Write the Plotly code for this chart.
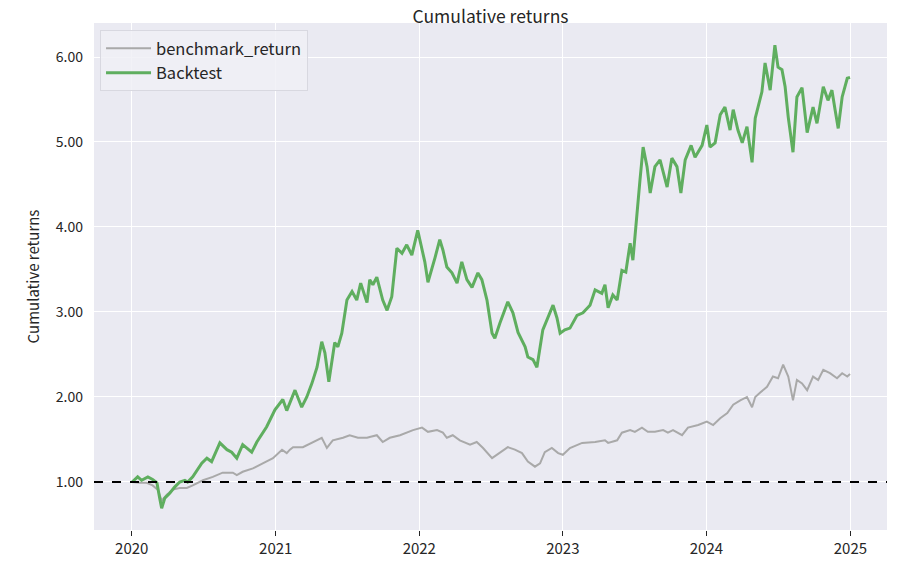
import plotly.graph_objects as go

# Benchmark series
bench_dates = [
    "2020-01-02", "2020-01-21", "2020-02-08", "2020-02-23", "2020-03-07", "2020-03-17",
    "2020-03-30", "2020-04-14", "2020-05-02", "2020-05-20", "2020-06-04", "2020-06-30",
    "2020-07-25", "2020-08-19", "2020-09-14", "2020-09-24", "2020-10-09", "2020-11-04",
    "2020-11-29", "2020-12-25", "2021-01-17", "2021-01-29", "2021-02-06", "2021-02-14",
    "2021-03-11", "2021-04-05", "2021-04-28", "2021-05-11", "2021-05-26", "2021-06-21",
    "2021-07-08", "2021-07-29", "2021-08-21", "2021-08-28", "2021-09-15", "2021-09-30",
    "2021-10-18", "2021-11-13", "2021-11-30", "2021-12-16", "2022-01-08", "2022-01-23",
    "2022-02-15", "2022-03-02", "2022-03-12", "2022-03-27", "2022-04-14", "2022-05-10",
    "2022-05-27", "2022-06-12", "2022-07-05", "2022-07-25", "2022-08-14", "2022-09-01",
    "2022-09-19", "2022-10-04", "2022-10-22", "2022-11-04", "2022-11-16", "2022-12-04",
    "2022-12-20", "2023-01-01", "2023-01-19", "2023-02-19", "2023-03-24", "2023-04-18",
    "2023-04-26", "2023-05-19", "2023-05-31", "2023-06-21", "2023-07-03", "2023-07-21",
    "2023-08-05", "2023-08-23", "2023-09-13", "2023-09-25", "2023-10-08", "2023-10-31",
    "2023-11-15", "2023-12-11", "2024-01-02", "2024-01-18", "2024-02-05", "2024-02-23",
    "2024-03-09", "2024-03-27", "2024-04-13", "2024-04-26", "2024-05-04", "2024-05-16",
    "2024-06-03", "2024-06-18", "2024-07-01", "2024-07-14", "2024-07-27", "2024-08-08",
    "2024-08-18", "2024-08-31", "2024-09-13", "2024-09-28", "2024-10-11", "2024-10-24",
    "2024-11-10", "2024-11-28", "2024-12-11", "2024-12-24", "2024-12-31",
]
bench_values = [
    1.00, 0.99, 0.99, 0.96, 0.91, 0.78,
    0.85, 0.91, 0.93, 0.93, 0.96, 1.02,
    1.06, 1.11, 1.11, 1.08, 1.12, 1.16,
    1.22, 1.28, 1.38, 1.34, 1.38, 1.41,
    1.41, 1.47, 1.52, 1.40, 1.49, 1.52,
    1.55, 1.52, 1.52, 1.53, 1.55, 1.47,
    1.52, 1.55, 1.58, 1.61, 1.64, 1.59,
    1.61, 1.58, 1.52, 1.55, 1.49, 1.44,
    1.47, 1.40, 1.28, 1.35, 1.41, 1.38,
    1.34, 1.24, 1.18, 1.22, 1.35, 1.40,
    1.34, 1.32, 1.40, 1.46, 1.47, 1.49,
    1.46, 1.49, 1.58, 1.61, 1.59, 1.64,
    1.59, 1.59, 1.61, 1.58, 1.61, 1.55,
    1.64, 1.67, 1.71, 1.67, 1.75, 1.81,
    1.91, 1.96, 2.00, 1.88, 2.00, 2.05,
    2.12, 2.24, 2.22, 2.38, 2.24, 1.96,
    2.20, 2.16, 2.08, 2.24, 2.20, 2.32,
    2.28, 2.22, 2.28, 2.24, 2.27,
]

# Backtest series
backtest_dates = [
    "2020-01-02", "2020-01-16", "2020-01-26", "2020-02-11", "2020-02-23", "2020-03-05",
    "2020-03-12", "2020-03-17", "2020-03-25", "2020-04-07", "2020-04-19", "2020-05-02",
    "2020-05-15", "2020-05-22", "2020-06-04", "2020-06-27", "2020-07-10", "2020-07-22",
    "2020-08-12", "2020-08-30", "2020-09-11", "2020-09-24", "2020-10-09", "2020-11-01",
    "2020-11-14", "2020-12-09", "2020-12-30", "2021-01-19", "2021-01-29", "2021-02-19",
    "2021-03-08", "2021-03-21", "2021-04-03", "2021-04-16", "2021-04-28", "2021-05-06",
    "2021-05-16", "2021-05-31", "2021-06-08", "2021-06-18", "2021-07-01", "2021-07-14",
    "2021-07-26", "2021-08-05", "2021-08-21", "2021-08-28", "2021-09-05", "2021-09-15",
    "2021-09-30", "2021-10-11", "2021-10-23", "2021-11-05", "2021-11-18", "2021-11-30",
    "2021-12-13", "2021-12-28", "2022-01-15", "2022-01-23", "2022-02-10", "2022-02-22",
    "2022-03-02", "2022-03-12", "2022-03-25", "2022-04-07", "2022-04-19", "2022-05-02",
    "2022-05-15", "2022-05-30", "2022-06-09", "2022-06-22", "2022-07-05", "2022-07-12",
    "2022-07-25", "2022-08-14", "2022-08-27", "2022-09-09", "2022-09-27", "2022-10-04",
    "2022-10-17", "2022-10-27", "2022-11-11", "2022-11-24", "2022-12-07", "2022-12-17",
    "2022-12-25", "2023-01-06", "2023-01-19", "2023-02-06", "2023-02-21", "2023-03-11",
    "2023-03-24", "2023-04-10", "2023-04-18", "2023-04-26", "2023-05-08", "2023-05-19",
    "2023-05-31", "2023-06-10", "2023-06-21", "2023-06-28", "2023-07-08", "2023-07-16",
    "2023-07-24", "2023-08-03", "2023-08-11", "2023-08-23", "2023-09-05", "2023-09-13",
    "2023-09-23", "2023-10-05", "2023-10-18", "2023-10-28", "2023-11-08", "2023-11-23",
    "2023-12-03", "2023-12-21", "2024-01-02", "2024-01-10", "2024-01-23", "2024-02-05",
    "2024-02-17", "2024-03-01", "2024-03-09", "2024-03-21", "2024-04-01", "2024-04-13",
    "2024-04-26", "2024-05-04", "2024-05-21", "2024-05-29", "2024-06-11", "2024-06-23",
    "2024-07-01", "2024-07-11", "2024-07-19", "2024-07-27", "2024-08-08", "2024-08-18",
    "2024-08-31", "2024-09-13", "2024-09-28", "2024-10-08", "2024-10-24", "2024-11-05",
    "2024-11-15", "2024-11-23", "2024-12-01", "2024-12-11", "2024-12-24", "2024-12-31",
]
backtest_values = [
    1.00, 1.06, 1.02, 1.06, 1.03, 0.99,
    0.81, 0.69, 0.81, 0.87, 0.94, 1.00,
    1.02, 1.00, 1.06, 1.22, 1.28, 1.24,
    1.46, 1.38, 1.35, 1.28, 1.44, 1.35,
    1.47, 1.65, 1.85, 1.97, 1.84, 2.08,
    1.88, 2.00, 2.16, 2.35, 2.65, 2.52,
    2.18, 2.64, 2.59, 2.75, 3.14, 3.24,
    3.14, 3.34, 3.11, 3.38, 3.32, 3.41,
    3.14, 3.02, 3.18, 3.75, 3.69, 3.79,
    3.67, 3.96, 3.59, 3.35, 3.64, 3.85,
    3.73, 3.53, 3.46, 3.34, 3.59, 3.38,
    3.29, 3.46, 3.38, 3.14, 2.75, 2.69,
    2.87, 3.12, 2.99, 2.76, 2.59, 2.47,
    2.44, 2.35, 2.79, 2.94, 3.08, 2.93,
    2.75, 2.79, 2.81, 2.96, 2.99, 3.08,
    3.26, 3.22, 3.32, 3.05, 3.20, 3.14,
    3.49, 3.47, 3.81, 3.61, 4.18, 4.55,
    4.94, 4.71, 4.40, 4.71, 4.79, 4.64,
    4.47, 4.81, 4.71, 4.40, 4.79, 4.96,
    4.82, 4.96, 5.20, 4.94, 4.99, 5.32,
    5.41, 5.14, 5.38, 5.14, 4.99, 5.18,
    4.76, 5.28, 5.59, 5.93, 5.61, 6.14,
    5.88, 5.85, 5.65, 5.29, 4.88, 5.53,
    5.64, 5.11, 5.41, 5.22, 5.65, 5.49,
    5.61, 5.38, 5.16, 5.53, 5.75, 5.76,
]

y_ticks = [1, 2, 3, 4, 5, 6]
x_ticks = ["2020-01-01", "2021-01-01", "2022-01-01", "2023-01-01", "2024-01-01", "2025-01-01"]
x_tick_labels = ["2020", "2021", "2022", "2023", "2024", "2025"]

font_family = "Noto Sans CJK SC, Noto Sans, sans-serif"
text_color = "#262626"

fig = go.Figure()

fig.add_trace(go.Scatter(
    x = bench_dates,
    y = bench_values,
    mode = "lines",
    name = "benchmark_return",
    line = dict(color = "#a9a9a9", width = 2)
))

fig.add_trace(go.Scatter(
    x = backtest_dates,
    y = backtest_values,
    mode = "lines",
    name = "Backtest",
    line = dict(color = "#5fae5f", width = 3)
))

# dashed reference line at 1.0
fig.add_shape(
    type = "line",
    xref = "paper", x0 = 0, x1 = 1,
    yref = "y", y0 = 1, y1 = 1,
    line = dict(color = "black", width = 2, dash = "dash")
)

# the page puts the figure 8px in from the top-left corner, so margins are shifted
fig.update_layout(
    width = 903,
    height = 572,
    margin = dict(l = 86, r = 24, t = 15, b = 50),
    paper_bgcolor = "white",
    plot_bgcolor = "#eaeaf2",
    font = dict(family = font_family, size = 14, color = text_color),
    title = dict(
        text = "Cumulative returns",
        x = 0.5, xref = "paper", xanchor = "center",
        y = 0.996, yref = "container", yanchor = "top",
        pad = dict(t = 0, b = 0),
        font = dict(size = 17.5, color = text_color)
    ),
    legend = dict(
        x = 0.0076, y = 0.986,
        xanchor = "left", yanchor = "top",
        bgcolor = "rgba(240,240,246,0.85)",
        bordercolor = "#d8d8e0",
        borderwidth = 1,
        font = dict(size = 16.5, color = text_color),
        itemwidth = 45,
        tracegroupgap = 0
    ),
    showlegend = True
)

fig.update_xaxes(
    type = "date",
    range = ["2019-09-27", "2025-04-04"],
    tickvals = x_ticks,
    ticktext = x_tick_labels,
    showgrid = True,
    gridcolor = "white",
    gridwidth = 1,
    zeroline = False,
    ticks = "outside",
    ticklen = 5,
    tickcolor = text_color,
    tickfont = dict(size = 15, color = text_color),
    showline = False
)

fig.update_yaxes(
    range = [0.435, 6.40],
    tickvals = y_ticks,
    tickformat = ".2f",
    showgrid = True,
    gridcolor = "white",
    gridwidth = 1,
    zeroline = False,
    ticks = "",
    ticklabelstandoff = 10,
    tickfont = dict(size = 14, color = text_color),
    title = dict(text = "Cumulative returns", font = dict(size = 15, color = text_color), standoff = 12),
    showline = False
)

fig.write_html("out.html")
